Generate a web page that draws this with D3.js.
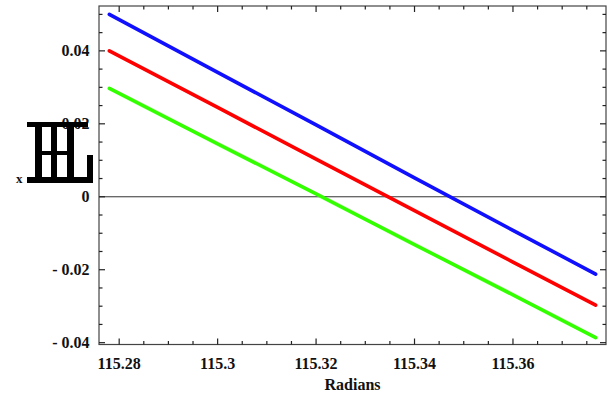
<!DOCTYPE html>
<html><head><meta charset="utf-8">
<script src="https://cdn.jsdelivr.net/npm/d3@7/dist/d3.min.js"></script>
<style>body{margin:0;background:#fff}svg{display:block}text{font-family:"Liberation Serif","Times New Roman",serif;font-weight:bold}</style>
</head><body><svg id="c" width="611" height="395"></svg>
<script>
const xValues = [115.278, 115.30, 115.32, 115.34, 115.36, 115.3768];
const blueValues = [0.0500, 0.0341, 0.0197, 0.0052, -0.0092, -0.0212];
const redValues = [0.0400, 0.0245, 0.0103, -0.0038, -0.0179, -0.0297];
const greenValues = [0.0297, 0.0145, 0.0008, -0.0131, -0.0269, -0.0386];
const xTicks = [115.28, 115.30, 115.32, 115.34, 115.36];
const xTickLabels = ["115.28", "115.3", "115.32", "115.34", "115.36"];
const yTicks = [-0.04, -0.02, 0, 0.02, 0.04];
const yTickLabels = ["- 0.04", "- 0.02", "0", "0.02", "0.04"];
const xLabel = "Radians";
const series = [
  {name: "blue", values: blueValues, color: "#1010ff"},
  {name: "red", values: redValues, color: "#ff0000"},
  {name: "green", values: greenValues, color: "#33ff00"}
];

const svg = d3.select("#c");
const L = 99, R = 606, T = 6, B = 344.5;
const x = d3.scaleLinear().domain([115.2759, 115.3789]).range([L, R]);
const y = d3.scaleLinear().domain([-0.0405, 0.0523]).range([B, T]);

// zero axis line
svg.append("line").attr("x1", L).attr("x2", R).attr("y1", y(0)).attr("y2", y(0))
  .attr("stroke", "#333").attr("stroke-width", 1);

// series
const line = d3.line().x((d, i) => x(xValues[i])).y(d => y(d));
series.forEach(s => {
  svg.append("path").datum(s.values).attr("d", line)
    .attr("fill", "none").attr("stroke", s.color).attr("stroke-width", 3.6)
    .attr("stroke-linecap", "round").attr("stroke-linejoin", "round");
});

// frame
svg.append("rect").attr("x", L).attr("y", T).attr("width", R - L).attr("height", B - T)
  .attr("fill", "none").attr("stroke", "#444").attr("stroke-width", 1.2);

// ticks
const xMinor = d3.range(0, 21).map(i => 115.28 + i * 0.005).filter(v => v <= 115.3789);
const yMinor = d3.range(0, 19).map(i => -0.04 + i * 0.005).filter(v => v <= 0.0523);
const isMajorX = v => xTicks.some(t => Math.abs(t - v) < 1e-6);
const isMajorY = v => yTicks.some(t => Math.abs(t - v) < 1e-6);
const tg = svg.append("g").attr("stroke", "#222").attr("stroke-width", 1.2);
xMinor.forEach(v => {
  const len = isMajorX(v) ? 6 : 3.5;
  tg.append("line").attr("x1", x(v)).attr("x2", x(v)).attr("y1", B).attr("y2", B - len);
  tg.append("line").attr("x1", x(v)).attr("x2", x(v)).attr("y1", T).attr("y2", T + len);
});
yMinor.forEach(v => {
  const len = isMajorY(v) ? 6 : 3.5;
  tg.append("line").attr("x1", L).attr("x2", L + len).attr("y1", y(v)).attr("y2", y(v));
  tg.append("line").attr("x1", R).attr("x2", R - len).attr("y1", y(v)).attr("y2", y(v));
});

// tick labels
xTicks.forEach((v, i) => {
  svg.append("text").attr("x", x(v)).attr("y", 368.5).attr("text-anchor", "middle")
    .attr("font-size", 16).attr("fill", "#111").text(xTickLabels[i]);
});
yTicks.forEach((v, i) => {
  svg.append("text").attr("x", 89.5).attr("y", y(v) + 5.5).attr("text-anchor", "end")
    .attr("font-size", 16).attr("fill", "#111").text(yTickLabels[i]);
});
svg.append("text").attr("x", (L + R) / 2).attr("y", 390).attr("text-anchor", "middle")
  .attr("font-size", 16).attr("fill", "#111").text(xLabel);

// y label: "x" plus the garbled glyph
svg.append("text").attr("x", 16).attr("y", 183).attr("font-size", 13).attr("fill", "#111").text("x");
const g = svg.append("g").attr("fill", "#000");
[[27, 122, 61, 5], [35, 122, 7, 60], [51, 122, 6, 60], [67, 122, 7, 60],
 [35, 151, 39, 4], [27, 177, 66, 6], [87, 155, 6, 28]].forEach(r => {
  g.append("rect").attr("x", r[0]).attr("y", r[1]).attr("width", r[2]).attr("height", r[3]);
});
</script>
</body></html>
